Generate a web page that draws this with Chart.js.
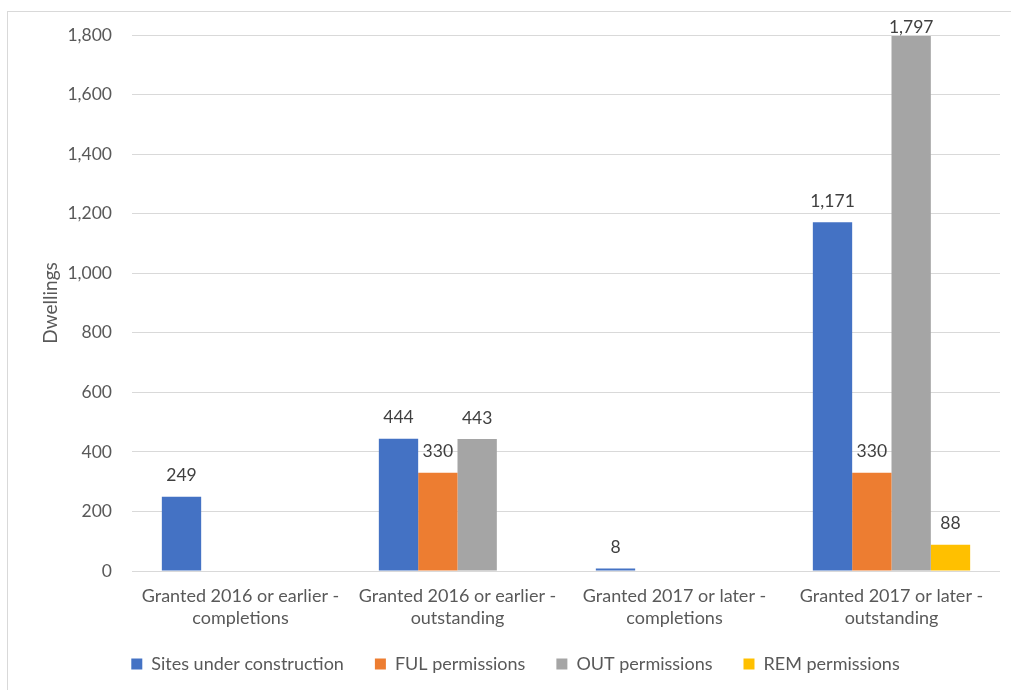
<!DOCTYPE html>
<html>
<head>
<meta charset="utf-8">
<script src="https://cdn.jsdelivr.net/npm/chart.js@4.4.1/dist/chart.umd.min.js"></script>
<style>
  html, body { margin: 0; padding: 0; background: #ffffff; }
  #wrap { position: relative; width: 1011px; height: 690px; overflow: hidden; }
  #frame { position: absolute; left: 7px; top: 11px; width: 1100px; height: 800px; border: 1px solid #d9d9d9; box-sizing: border-box; }
  canvas { position: absolute; left: 0; top: 0; }
</style>
</head>
<body>
<div id="wrap">
  <div id="frame"></div>
  <canvas id="c" width="1011" height="690"></canvas>
</div>
<script>
const categories = [
  ["Granted 2016 or earlier -", "completions"],
  ["Granted 2016 or earlier -", "outstanding"],
  ["Granted 2017 or later -", "completions"],
  ["Granted 2017 or later -", "outstanding"]
];
const seriesNames = ["Sites under construction", "FUL permissions", "OUT permissions", "REM permissions"];
const sitesUnderConstruction = [249, 444, 8, 1171];
const fulPermissions = [null, 330, null, 330];
const outPermissions = [null, 443, null, 1797];
const remPermissions = [null, null, null, 88];
const seriesColors = ["#4472C4", "#ED7D31", "#A5A5A5", "#FFC000"];
const yTicksMin = 0, yTicksMax = 1800, yTicksStep = 200;

const FONT = "Lato, 'Open Sans', sans-serif";
const TEXT = "#595959";

const valueLabels = {
  id: 'valueLabels',
  afterDatasetsDraw(chart) {
    const ctx = chart.ctx;
    ctx.save();
    ctx.font = "17.5px " + FONT;
    ctx.fillStyle = "#404040";
    ctx.textAlign = "center";
    ctx.textBaseline = "middle";
    chart.data.datasets.forEach((ds, i) => {
      const meta = chart.getDatasetMeta(i);
      meta.data.forEach((bar, j) => {
        const v = ds.data[j];
        if (v === null || v === undefined) return;
        let y = bar.y - 21;
        if (y < 27) y = 27;
        ctx.fillText(v.toLocaleString('en-US'), bar.x, y);
      });
    });
    ctx.restore();
  }
};

// Lift the legend a little into the blank space under the axis labels
const legendLift = {
  id: 'legendLift',
  afterLayout(chart) {
    if (chart.legend) {
      chart.legend.top -= 9;
      chart.legend.bottom -= 9;
    }
  }
};

const allSeries = [sitesUnderConstruction, fulPermissions, outPermissions, remPermissions];

new Chart(document.getElementById('c'), {
  type: 'bar',
  data: {
    labels: categories,
    datasets: allSeries.map((d, i) => ({
      label: seriesNames[i],
      data: d,
      backgroundColor: seriesColors[i],
      borderWidth: 0,
      categoryPercentage: 0.725,
      barPercentage: 1.0
    }))
  },
  options: {
    responsive: false,
    animation: false,
    devicePixelRatio: 1,
    layout: { padding: { left: 31, right: 11, top: 35, bottom: -2 } },
    plugins: {
      legend: {
        position: 'bottom',
        labels: {
          font: { family: FONT, size: 18 },
          color: TEXT,
          boxWidth: 11,
          boxHeight: 11,
          padding: 31
        }
      },
      tooltip: { enabled: false }
    },
    scales: {
      x: {
        grid: { display: false, drawTicks: false },
        border: { display: false },
        ticks: {
          font: { family: FONT, size: 18, lineHeight: 1.22 },
          color: TEXT,
          padding: 14,
          maxRotation: 0,
          autoSkip: false
        },
        afterFit(scale) { scale.height = 62; }
      },
      y: {
        min: yTicksMin,
        max: yTicksMax,
        ticks: {
          stepSize: yTicksStep,
          font: { family: FONT, size: 17.5 },
          color: TEXT,
          padding: 20
        },
        grid: { color: "#d9d9d9", drawTicks: false, lineWidth: 1 },
        border: { display: false },
        title: {
          display: true,
          text: "Dwellings",
          font: { family: FONT, size: 19 },
          color: TEXT,
          padding: { top: 8, bottom: 0 }
        },
        afterFit(scale) { scale.width = 101; }
      }
    }
  },
  plugins: [valueLabels, legendLift]
});
</script>
</body>
</html>
